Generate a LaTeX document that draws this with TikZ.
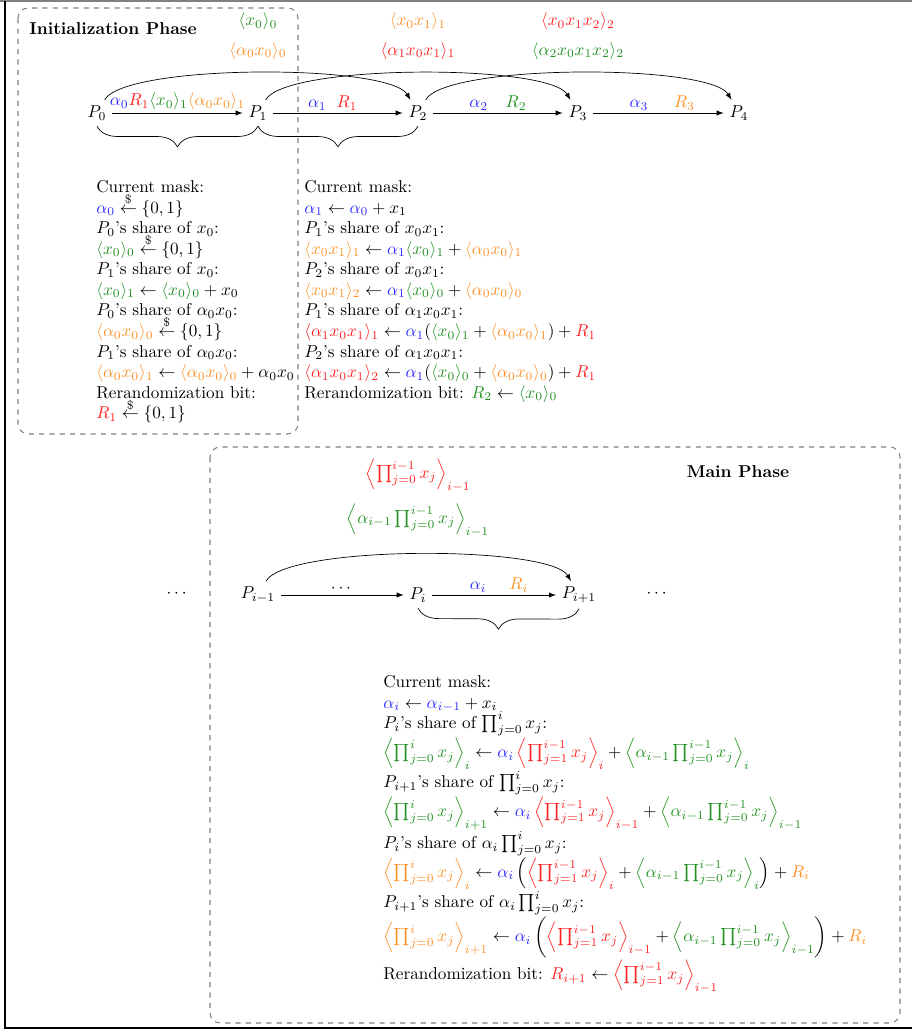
\documentclass[tikz,border=0pt]{standalone}
\usepackage{amsmath}
\usetikzlibrary{positioning,decorations.pathreplacing}

\definecolor{maskblue}{RGB}{45,45,255}
\definecolor{sharered}{RGB}{255,35,35}
\definecolor{sharegreen}{RGB}{35,145,35}
\definecolor{shareorange}{RGB}{255,145,40}

\newcommand{\cBlue}[1]{{\color{maskblue}#1}}
\newcommand{\cRed}[1]{{\color{sharered}#1}}
\newcommand{\cGreen}[1]{{\color{sharegreen}#1}}
\newcommand{\cOrange}[1]{{\color{shareorange}#1}}
\newcommand{\shareof}[2]{\langle #1\rangle_{#2}}
\newcommand{\bigshareof}[2]{\left\langle #1\right\rangle_{#2}}
\newcommand{\prodx}[2]{\prod_{j=#1}^{#2} x_j}
\newcommand{\randfrom}{\mathrel{\smash{\stackrel{\$}{\leftarrow}}}}

\tikzset{
  lbl/.style={above, inner sep=1.5pt},
  textblock/.style={anchor=north west, align=left, inner sep=0pt},
  phase/.style={gray, dashed, semithick, rounded corners=6pt},
  bracedown/.style={decorate, decoration={brace, mirror, amplitude=12pt}},
}

\begin{document}
\begin{tikzpicture}[x=0.583pt, y=-0.583pt, >=latex]
  \useasboundingbox (0,0) rectangle (912,1030);
  \draw[gray, line width=1.2pt] (0,1) -- (912,1);
  \draw[line width=0.9pt] (5,1) -- (5,1028) -- (912,1028);

  % initialization phase
  \draw[phase] (18,8) rectangle (298,434);
  \node[anchor=west, inner sep=0pt] (initTitle) at (29,29) {\textbf{Initialization Phase}};

  \node (P0) at (97,113) {$P_0$};
  \node (P1) at (258,113) {$P_1$};
  \node (P2) at (418,113) {$P_2$};
  \node (P3) at (578,113) {$P_3$};
  \node (P4) at (739,113) {$P_4$};

  \draw[->] (P0) -- node[lbl] {$\cBlue{\alpha_0}\cRed{R_1}\cGreen{\shareof{x_0}{1}}\cOrange{\shareof{\alpha_0x_0}{1}}$} (P1);
  \draw[->] (P1) -- node[lbl, pos=0.34] {$\cBlue{\alpha_1}$} node[lbl, pos=0.57] {$\cRed{R_1}$} (P2);
  \draw[->] (P2) -- node[lbl, pos=0.35] {$\cBlue{\alpha_2}$} node[lbl, pos=0.64] {$\cGreen{R_2}$} (P3);
  \draw[->] (P3) -- node[lbl, pos=0.35] {$\cBlue{\alpha_3}$} node[lbl, pos=0.70] {$\cOrange{R_3}$} (P4);

  \draw[->] (P0) to[out=60, in=120, looseness=0.35] (P2);
  \draw[->] (P1) to[out=60, in=120, looseness=0.35] (P3);
  \draw[->] (P2) to[out=60, in=120, looseness=0.35] (P4);

  \draw[bracedown] (P0.south) -- (P1.south);
  \draw[bracedown] (P1.south) -- (P2.south);

  \node[above=20pt of P1] (sendOneB) {$\cOrange{\shareof{\alpha_0x_0}{0}}$};
  \node[above=0pt of sendOneB] (sendOneA) {$\cGreen{\shareof{x_0}{0}}$};
  \node[above=20pt of P2] (sendTwoB) {$\cRed{\shareof{\alpha_1x_0x_1}{1}}$};
  \node[above=0pt of sendTwoB] (sendTwoA) {$\cOrange{\shareof{x_0x_1}{1}}$};
  \node[above=20pt of P3] (sendThreeB) {$\cGreen{\shareof{\alpha_2x_0x_1x_2}{2}}$};
  \node[above=0pt of sendThreeB] (sendThreeA) {$\cRed{\shareof{x_0x_1x_2}{2}}$};

  \node[textblock] (initText) at (96,180) {Current mask:\\
    $\cBlue{\alpha_0} \randfrom \{0,1\}$\\
    $P_0$'s share of $x_0$:\\
    $\cGreen{\shareof{x_0}{0}} \randfrom \{0,1\}$\\
    $P_1$'s share of $x_0$:\\
    $\cGreen{\shareof{x_0}{1}} \leftarrow \cGreen{\shareof{x_0}{0}} + x_0$\\
    $P_0$'s share of $\alpha_0x_0$:\\
    $\cOrange{\shareof{\alpha_0x_0}{0}} \randfrom \{0,1\}$\\
    $P_1$'s share of $\alpha_0x_0$:\\
    $\cOrange{\shareof{\alpha_0x_0}{1}} \leftarrow \cOrange{\shareof{\alpha_0x_0}{0}} + \alpha_0x_0$\\
    Rerandomization bit:\\
    $\cRed{R_1} \randfrom \{0,1\}$};

  \node[textblock] (stepText) at (304,180) {Current mask:\\
    $\cBlue{\alpha_1} \leftarrow \cBlue{\alpha_0} + x_1$\\
    $P_1$'s share of $x_0x_1$:\\
    $\cOrange{\shareof{x_0x_1}{1}} \leftarrow \cBlue{\alpha_1}\cGreen{\shareof{x_0}{1}} + \cOrange{\shareof{\alpha_0x_0}{1}}$\\
    $P_2$'s share of $x_0x_1$:\\
    $\cOrange{\shareof{x_0x_1}{2}} \leftarrow \cBlue{\alpha_1}\cGreen{\shareof{x_0}{0}} + \cOrange{\shareof{\alpha_0x_0}{0}}$\\
    $P_1$'s share of $\alpha_1x_0x_1$:\\
    $\cRed{\shareof{\alpha_1x_0x_1}{1}} \leftarrow \cBlue{\alpha_1}(\cGreen{\shareof{x_0}{1}} + \cOrange{\shareof{\alpha_0x_0}{1}}) + \cRed{R_1}$\\
    $P_2$'s share of $\alpha_1x_0x_1$:\\
    $\cRed{\shareof{\alpha_1x_0x_1}{2}} \leftarrow \cBlue{\alpha_1}(\cGreen{\shareof{x_0}{0}} + \cOrange{\shareof{\alpha_0x_0}{0}}) + \cRed{R_1}$\\
    Rerandomization bit: $\cGreen{R_2} \leftarrow \cGreen{\shareof{x_0}{0}}$};

  % main phase
  \draw[phase] (210,447) rectangle (900,1023);
  \node (mainTitle) at (738,472) {\textbf{Main Phase}};

  \node (dotsL) at (178,594) {$\cdots$};
  \node (Pprev) at (258,595) {$P_{i-1}$};
  \node (Pcur) at (418,595) {$P_i$};
  \node (Pnext) at (579,595) {$P_{i+1}$};
  \node (dotsR) at (658,594) {$\cdots$};

  \draw[->] (Pprev) -- node[lbl] {$\cdots$} (Pcur);
  \draw[->] (Pcur) -- node[lbl, pos=0.37] {$\cBlue{\alpha_i}$} node[lbl, pos=0.70] {$\cOrange{R_i}$} (Pnext);
  \draw[->] (Pprev) to[out=60, in=120, looseness=0.35] (Pnext);
  \draw[bracedown] (Pcur.south) -- (Pnext.south);

  \node (sendMainA) at (418,475) {$\cRed{\bigshareof{\prodx{0}{i-1}}{i-1}}$};
  \node (sendMainB) at (418,520) {$\cGreen{\bigshareof{\alpha_{i-1}\prodx{0}{i-1}}{i-1}}$};

  \node[textblock] (mainText) at (383,675) {Current mask:\\
    $\cBlue{\alpha_i} \leftarrow \cBlue{\alpha_{i-1}} + x_i$\\
    $P_i$'s share of $\prodx{0}{i}$:\\
    $\cGreen{\bigshareof{\prodx{0}{i}}{i}} \leftarrow \cBlue{\alpha_i}\,\cRed{\bigshareof{\prodx{1}{i-1}}{i}} + \cGreen{\bigshareof{\alpha_{i-1}\prodx{0}{i-1}}{i}}$\\
    $P_{i+1}$'s share of $\prodx{0}{i}$:\\
    $\cGreen{\bigshareof{\prodx{0}{i}}{i+1}} \leftarrow \cBlue{\alpha_i}\,\cRed{\bigshareof{\prodx{1}{i-1}}{i-1}} + \cGreen{\bigshareof{\alpha_{i-1}\prodx{0}{i-1}}{i-1}}$\\
    $P_i$'s share of $\alpha_i\prodx{0}{i}$:\\
    $\cOrange{\bigshareof{\prodx{0}{i}}{i}} \leftarrow \cBlue{\alpha_i}\left(\cRed{\bigshareof{\prodx{1}{i-1}}{i}} + \cGreen{\bigshareof{\alpha_{i-1}\prodx{0}{i-1}}{i}}\right) + \cOrange{R_i}$\\
    $P_{i+1}$'s share of $\alpha_i\prodx{0}{i}$:\\
    $\cOrange{\bigshareof{\prodx{0}{i}}{i+1}} \leftarrow \cBlue{\alpha_i}\left(\cRed{\bigshareof{\prodx{1}{i-1}}{i-1}} + \cGreen{\bigshareof{\alpha_{i-1}\prodx{0}{i-1}}{i-1}}\right) + \cOrange{R_i}$\\
    Rerandomization bit: $\cRed{R_{i+1}} \leftarrow \cRed{\bigshareof{\prodx{1}{i-1}}{i-1}}$};
\end{tikzpicture}
\end{document}
